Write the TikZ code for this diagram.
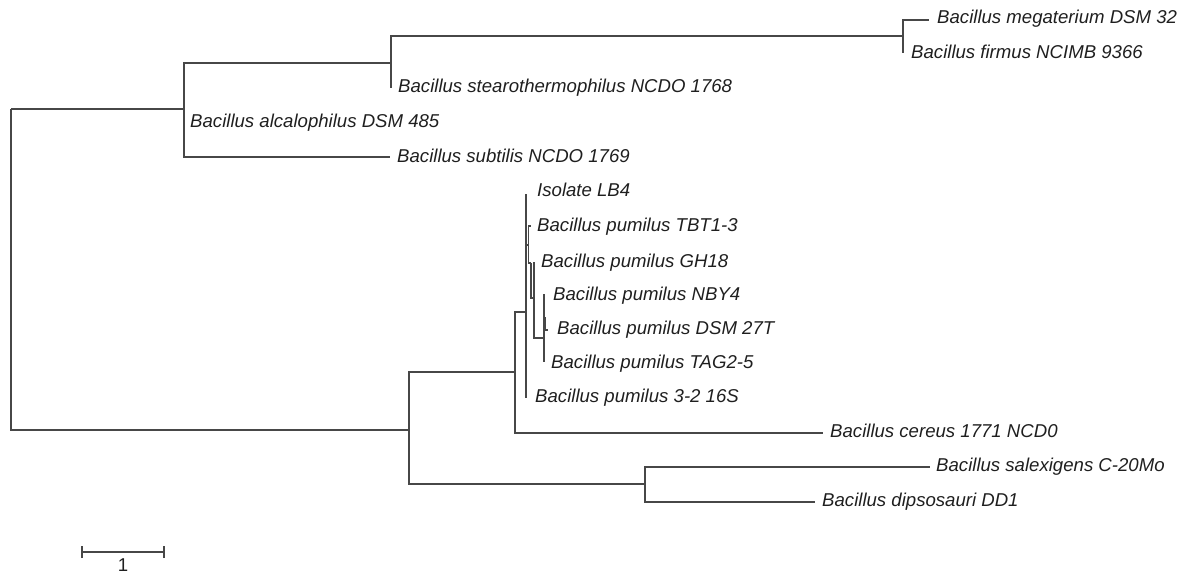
\documentclass[tikz,border=0pt]{standalone}
\usepackage{fontspec}
\setmainfont{Liberation Sans}
\begin{document}
\begin{tikzpicture}[x=1pt,y=-1pt,
  branch/.style={draw=black!72, line width=1.2pt},
  lab/.style={anchor=base west, inner sep=0pt, text=black!88,
    font=\fontsize{18.6}{22}\selectfont\itshape},
  scalelab/.style={anchor=base, inner sep=0pt, text=black!88,
    font=\fontsize{18.6}{22}\selectfont}]
\useasboundingbox (0,0) rectangle (1182,575);
% internal nodes
\coordinate (r)   at (11,109);
\coordinate (n1)  at (184,109);
\coordinate (n2)  at (391,63);
\coordinate (n3)  at (903,36);
\coordinate (n4)  at (409,430);
\coordinate (n5)  at (515,372);
\coordinate (n6)  at (645,484);
\coordinate (n7)  at (526,312);
\coordinate (n8)  at (528.5,245);
\coordinate (n9)  at (531,263);
\coordinate (n10) at (534,298);
\coordinate (n11) at (544,338);
\coordinate (n12) at (545.5,323);
% leaf tips
\coordinate (tmeg)  at (929,20);
\coordinate (tfir)  at (903,53);
\coordinate (tste)  at (391,88);
\coordinate (talc)  at (184,123);
\coordinate (tsub)  at (390,157);
\coordinate (tlb4)  at (526,194);
\coordinate (ttbt)  at (531,226);
\coordinate (tgh)   at (534,262);
\coordinate (tnby)  at (545,295);
\coordinate (tdsm)  at (548,330);
\coordinate (ttag)  at (544,362);
\coordinate (t32)   at (526,398);
\coordinate (tcer)  at (823,433);
\coordinate (tsal)  at (930,467);
\coordinate (tdip)  at (815,502);
% root
\draw[branch] (r) -- (n1);
\draw[branch] (r) |- (n4);
% upper clade
\draw[branch] (n1) |- (n2);
\draw[branch] (n1) |- (talc);
\draw[branch] (n1) |- (tsub);
\draw[branch] (n2) |- (n3);
\draw[branch] (n2) |- (tste);
\draw[branch] (n3) |- (tmeg);
\draw[branch] (n3) |- (tfir);
% lower clade
\draw[branch] (n4) |- (n5);
\draw[branch] (n4) |- (n6);
\draw[branch] (n6) |- (tsal);
\draw[branch] (n6) |- (tdip);
\draw[branch] (n5) |- (n7);
\draw[branch] (n5) |- (tcer);
\draw[branch] (n7) |- (tlb4);
\draw[branch] (n7) |- (n8);
\draw[branch] (n7) |- (t32);
\draw[branch] (n8) |- (ttbt);
\draw[branch] (n8) |- (n9);
\draw[branch] (n9) |- (n10);
\draw[branch] (n10) |- (tgh);
\draw[branch] (n10) |- (n11);
\draw[branch] (n11) |- (tnby);
\draw[branch] (n11) |- (n12);
\draw[branch] (n11) |- (ttag);
\draw[branch, line width=1.8pt] (n12) ++(0,-6) coordinate (n12t) -- (n12 |- tdsm);
\draw[branch] (n12) |- (tdsm);
% labels
\node[lab] (lmeg) at (937,24)    {Bacillus megaterium DSM 32};
\node[lab] (lfir) at (911,58.5)  {Bacillus firmus NCIMB 9366};
\node[lab] (lste) at (398,92.5)  {Bacillus stearothermophilus NCDO 1768};
\node[lab] (lalc) at (190,127.5) {Bacillus alcalophilus DSM 485};
\node[lab] (lsub) at (397,162)   {Bacillus subtilis NCDO 1769};
\node[lab] (llb4) at (537,196.5) {Isolate LB4};
\node[lab] (ltbt) at (537,231.5) {Bacillus pumilus TBT1-3};
\node[lab] (lgh)  at (541,267)   {Bacillus pumilus GH18};
\node[lab] (lnby) at (553,300.5) {Bacillus pumilus NBY4};
\node[lab] (ldsm) at (557,334.5) {Bacillus pumilus DSM 27T};
\node[lab] (ltag) at (551,368.5) {Bacillus pumilus TAG2-5};
\node[lab] (l32)  at (535,402.5) {Bacillus pumilus 3-2 16S};
\node[lab] (lcer) at (830,437.5) {Bacillus cereus 1771 NCD0};
\node[lab] (lsal) at (936,471.5) {Bacillus salexigens C-20Mo};
\node[lab] (ldip) at (822,506.5) {Bacillus dipsosauri DD1};
% scale bar
\coordinate (sa) at (82,552);
\coordinate (sb) at (164,552);
\draw[branch] (sa) -- (sb);
\draw[branch] ([yshift=-6pt]sa) -- ([yshift=6pt]sa);
\draw[branch] ([yshift=-6pt]sb) -- ([yshift=6pt]sb);
\node[scalelab] (sl) at (123,571.5) {1};
\end{tikzpicture}
\end{document}
